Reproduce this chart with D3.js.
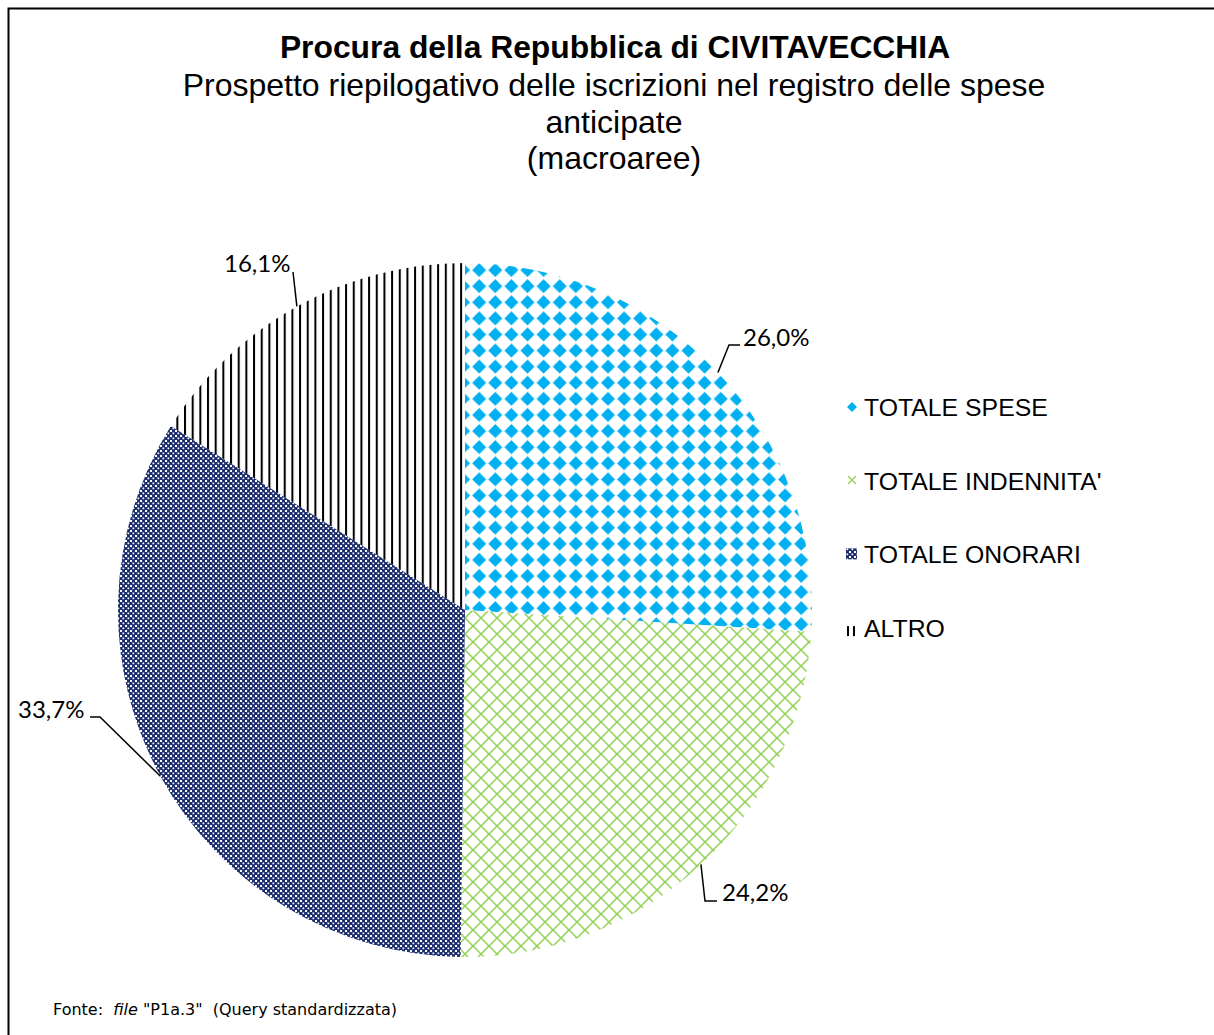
<!DOCTYPE html>
<html>
<head>
<meta charset="utf-8">
<script src="https://cdn.jsdelivr.net/npm/d3@7"></script>
<style>
  body { margin: 0; background: #fff; }
  svg { display: block; }
</style>
</head>
<body>
<svg width="1214" height="1035"></svg>
<script>
// data
var categories = ["TOTALE SPESE", "TOTALE INDENNITA'", "TOTALE ONORARI", "ALTRO"];
var values = [26.0, 24.2, 33.7, 16.1];
var valueLabels = ["26,0%", "24,2%", "33,7%", "16,1%"];
var titleLines = ["Prospetto riepilogativo delle iscrizioni nel registro delle spese", "anticipate", "(macroaree)"];

var svg = d3.select("svg"),
  width = +svg.attr("width"),
  height = +svg.attr("height");

// frame (cut off at right / bottom like the original)
svg.append("rect")
  .attr("x", 8.5).attr("y", 8.5)
  .attr("width", width + 20).attr("height", height + 20)
  .attr("fill", "none").attr("stroke", "#000").attr("stroke-width", 2);

// fill patterns
var defs = svg.append("defs");

var pSpese = defs.append("pattern").attr("id", "p0")
  .attr("patternUnits", "userSpaceOnUse").attr("width", 16.1).attr("height", 16.1)
  .attr("x", 465 - 8).attr("y", 610 - 8);
pSpese.append("path").attr("d", "M8,1 L15,8 L8,15 L1,8Z").attr("fill", "#00B0F0");

var pInd = defs.append("pattern").attr("id", "p1")
  .attr("patternUnits", "userSpaceOnUse").attr("width", 16).attr("height", 16);
pInd.append("path").attr("d", "M0,8 L8,0 L16,8 L8,16Z")
  .attr("fill", "none").attr("stroke", "#92D050").attr("stroke-width", 1.5);

var pOn = defs.append("pattern").attr("id", "p2")
  .attr("patternUnits", "userSpaceOnUse").attr("width", 5).attr("height", 5);
pOn.append("rect").attr("width", 5).attr("height", 5).attr("fill", "#1C2E6E");
pOn.append("rect").attr("x", 0).attr("y", 0).attr("width", 2).attr("height", 2).attr("fill", "#fff");
pOn.append("rect").attr("x", 2.5).attr("y", 2.5).attr("width", 1.7).attr("height", 1.7).attr("fill", "#fff");

var pAltro = defs.append("pattern").attr("id", "p3")
  .attr("patternUnits", "userSpaceOnUse").attr("width", 7.67).attr("height", 8)
  .attr("x", 463);
pAltro.append("rect").attr("x", 0).attr("width", 2).attr("height", 8).attr("fill", "#000");

// pie
var cx = 465, cy = 610, radius = 347;

var pie = d3.pie().sort(null).value(function(d) { return d; });
var arc = d3.arc().innerRadius(0).outerRadius(radius);
var arcs = pie(values);

var g = svg.append("g").attr("transform", "translate(" + cx + "," + cy + ")");

g.selectAll("path.slice")
  .data(arcs)
  .enter()
  .append("path")
    .attr("class", "slice")
    .attr("d", arc)
    .attr("fill", function(d, i) { return "url(#p" + i + ")"; });

// labels with leader lines (elbow + text anchor, relative to pie centre)
var labelLayout = [
  { elbow: [264, -265], end: [275, -265], tx: 278, ty: -264 },
  { elbow: [240, 291], end: [252, 291], tx: 257, ty: 291 },
  { elbow: [-365, 107], end: [-375, 107], tx: -447, ty: 108 },
  { elbow: [-172, -338], end: [-172, -338], tx: -241, ty: -338 }
];

arcs.forEach(function(d, i) {
  var mid = (d.startAngle + d.endAngle) / 2;
  var p0 = [Math.sin(mid) * radius, -Math.cos(mid) * radius];
  var L = labelLayout[i];
  g.append("path")
    .attr("d", d3.line()([p0, L.elbow, L.end]))
    .attr("fill", "none").attr("stroke", "#000").attr("stroke-width", 1.5);
  g.append("text")
    .attr("x", L.tx).attr("y", L.ty)
    .attr("font-family", "Lato, sans-serif")
    .attr("font-size", 24)
    .attr("fill", "#000")
    .text(valueLabels[i]);
});

// titles
svg.append("text")
  .attr("x", 615).attr("y", 58)
  .attr("text-anchor", "middle")
  .attr("font-family", "Liberation Sans, Arial, sans-serif")
  .attr("font-weight", "bold")
  .attr("font-size", 31.8)
  .text("Procura della Repubblica di CIVITAVECCHIA");

svg.append("g").selectAll("text")
  .data(titleLines)
  .enter()
  .append("text")
    .attr("x", 614)
    .attr("y", function(d, i) { return 96 + i * 36.6; })
    .attr("text-anchor", "middle")
    .attr("font-family", "Liberation Sans, Arial, sans-serif")
    .attr("font-size", 32)
    .text(function(d) { return d; });

// legend
var legend = svg.append("g").attr("transform", "translate(864,416)");
var item = legend.selectAll("g")
  .data(categories)
  .enter()
  .append("g")
    .attr("transform", function(d, i) { return "translate(0," + (i * 73.7) + ")"; });

item.append("text")
  .attr("x", 0).attr("y", 0)
  .attr("font-family", "Liberation Sans, Arial, sans-serif")
  .attr("font-size", 24.8)
  .text(function(d) { return d; });

// legend keys
legend.append("path").attr("d", "M-12,-14 L-7,-9 L-12,-4 L-17,-9Z").attr("fill", "#00B0F0");
legend.append("path").attr("d", "M-16,60 L-8,68 M-8,60 L-16,68")
  .attr("stroke", "#92D050").attr("stroke-width", 1.3).attr("fill", "none");
legend.append("rect").attr("x", -18).attr("y", 73.7 * 2 - 15).attr("width", 11).attr("height", 11)
  .attr("fill", "url(#p2)");
legend.append("rect").attr("x", -17).attr("y", 73.7 * 3 - 11).attr("width", 2).attr("height", 10).attr("fill", "#000");
legend.append("rect").attr("x", -11).attr("y", 73.7 * 3 - 11).attr("width", 2).attr("height", 10).attr("fill", "#000");

// source note
var note = svg.append("text")
  .attr("x", 53).attr("y", 1015)
  .style("white-space", "pre")
  .attr("font-family", "DejaVu Sans, Verdana, sans-serif")
  .attr("font-size", 16);
note.append("tspan").text("Fonte:  ");
note.append("tspan").attr("font-style", "italic").text("file");
note.append("tspan").text(" \"P1a.3\"  (Query standardizzata)");
</script>
</body>
</html>
